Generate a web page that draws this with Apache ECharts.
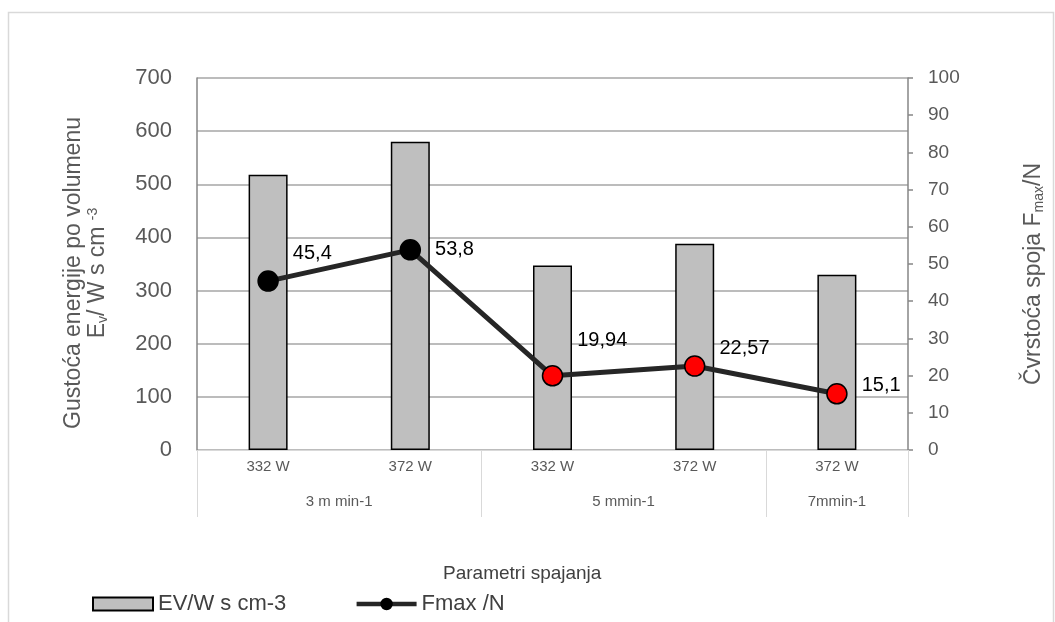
<!DOCTYPE html>
<html>
<head>
<meta charset="utf-8">
<script src="https://cdn.jsdelivr.net/npm/echarts@6/dist/echarts.min.js"></script>
<style>
  html, body { margin: 0; padding: 0; background: #fff; }
  #chart_box { width: 1055px; height: 622px; }
</style>
</head>
<body>
<div id="chart_box"></div>
<script>
// podaci
var snaga = ['332 W', '372 W', '332 W', '372 W', '372 W'];
var brzine = ['3 m min-1', '5 mmin-1', '7mmin-1'];
var brzinaSredina = [2, 6, 9];      // sredine grupa (u polovicama kategorija)
var brzinaGranice = [0, 4, 8, 10];  // granice grupa
var gustoca = [518, 580, 347, 388, 330];
var fmax = [45.4, 53.8, 19.94, 22.57, 15.1];
var lijeveOznake = [0, 100, 200, 300, 400, 500, 600, 700];
var desneOznake = [0, 10, 20, 30, 40, 50, 60, 70, 80, 90, 100];

var myChart = echarts.init(document.getElementById('chart_box'));

var font = 'Liberation Sans, Arial, sans-serif';
var boje = ['#000000', '#000000', '#ff0000', '#ff0000', '#ff0000'];
var pomakY = [-28, 0, -35, -18, -8];

var tocke = fmax.map(function (v, i) {
    return {
        value: v,
        itemStyle: { color: boje[i], borderColor: '#000', borderWidth: 1.5 },
        label: { offset: [0, pomakY[i]] }
    };
});

var option = {
    animation: false,
    textStyle: { fontFamily: font },
    graphic: [{
        type: 'rect',
        shape: { x: 8.5, y: 12.5, width: 1045, height: 640 },
        style: { fill: 'none', stroke: '#d9d9d9', lineWidth: 1.5 },
        z: -1
    }],
    title: {
        text: 'Parametri spajanja',
        left: 438, top: 559,
        textStyle: { fontSize: 19, fontWeight: 'normal', color: '#404040', fontFamily: font }
    },
    legend: {
        left: 87, top: 588,
        itemWidth: 60, itemHeight: 13, itemGap: 68,
        textStyle: { fontSize: 22, color: '#404040', fontFamily: font },
        data: [
            { name: 'EV/W s cm-3', icon: 'rect' },
            { name: 'Fmax /N', lineStyle: { width: 4.5, color: '#262626' } }
        ]
    },
    grid: { left: 197, right: 147, top: 78, bottom: 172 },
    xAxis: [
        {
            type: 'category',
            data: snaga,
            axisLine: { show: true, lineStyle: { color: '#d9d9d9', width: 1 } },
            axisTick: { show: false },
            axisLabel: { margin: 9, fontSize: 15, color: '#595959', fontFamily: font }
        },
        {
            type: 'value',
            min: 0, max: 10,
            position: 'bottom',
            axisLine: { show: false },
            splitLine: { show: false },
            axisTick: { show: true, length: 67, customValues: brzinaGranice, lineStyle: { color: '#d9d9d9', width: 1 } },
            axisLabel: {
                margin: 44, fontSize: 15, color: '#595959', fontFamily: font,
                customValues: brzinaSredina,
                formatter: function (v) {
                    var i = brzinaSredina.indexOf(v);
                    return i >= 0 ? brzine[i] : '';
                }
            }
        }
    ],
    yAxis: [
        {
            type: 'value',
            min: 0, max: 700, interval: 100,
            name: '{a|Gustoća energije po volumenu}\n{a|E}{s|v}{a|/ W s cm }{p|-3}',
            nameLocation: 'middle',
            nameGap: 87,
            nameTextStyle: {
                color: '#595959', fontFamily: font, align: 'center',
                padding: [0, 18, 0, 0],
                rich: {
                    a: { fontSize: 23, color: '#595959', fontFamily: font, lineHeight: 24 },
                    s: { fontSize: 14, color: '#595959', fontFamily: font, verticalAlign: 'bottom', padding: [10, 0, 0, 0] },
                    p: { fontSize: 14, color: '#595959', fontFamily: font, verticalAlign: 'top', padding: [0, 0, 10, 0] }
                }
            },
            axisLine: { show: true, lineStyle: { color: '#868686', width: 1.5 } },
            axisTick: { show: false },
            splitLine: { show: true, lineStyle: { color: '#a6a6a6', width: 1.5 } },
            axisLabel: {
                margin: 25, fontSize: 22, color: '#595959', fontFamily: font,
                formatter: function (v) { return lijeveOznake.indexOf(v) >= 0 ? String(v) : ''; }
            }
        },
        {
            type: 'value',
            min: 0, max: 100, interval: 10,
            position: 'right',
            name: '{a|Čvrstoća spoja F}{s|max}{a|/N}',
            nameLocation: 'middle',
            nameGap: 114,
            nameTextStyle: {
                color: '#595959', fontFamily: font,
                padding: [0, 20, 0, 0],
                rich: {
                    a: { fontSize: 23, color: '#595959', fontFamily: font },
                    s: { fontSize: 14, color: '#595959', fontFamily: font, verticalAlign: 'bottom', padding: [10, 0, 0, 0] }
                }
            },
            axisLine: { show: true, lineStyle: { color: '#868686', width: 1.5 } },
            axisTick: { show: true, length: 5, lineStyle: { color: '#868686', width: 1.5 } },
            splitLine: { show: false },
            axisLabel: {
                margin: 20, fontSize: 19, color: '#595959', fontFamily: font,
                formatter: function (v) { return desneOznake.indexOf(v) >= 0 ? String(v) : ''; }
            }
        }
    ],
    series: [
        {
            name: 'EV/W s cm-3',
            type: 'bar',
            xAxisIndex: 0,
            yAxisIndex: 0,
            barWidth: 39,
            data: gustoca,
            itemStyle: { color: '#bfbfbf', borderColor: '#000', borderWidth: 1.5 }
        },
        {
            name: 'Fmax /N',
            type: 'line',
            xAxisIndex: 0,
            yAxisIndex: 1,
            data: tocke,
            symbol: 'circle',
            symbolSize: 20,
            lineStyle: { color: '#262626', width: 5 },
            itemStyle: { color: '#000', borderColor: '#000', borderWidth: 1.5 },
            label: {
                show: true,
                position: 'right',
                distance: 14,
                fontSize: 20,
                color: '#000',
                fontFamily: font,
                formatter: function (p) { return String(p.value).replace('.', ','); }
            },
            z: 5
        }
    ]
};

myChart.setOption(option);
</script>
</body>
</html>
